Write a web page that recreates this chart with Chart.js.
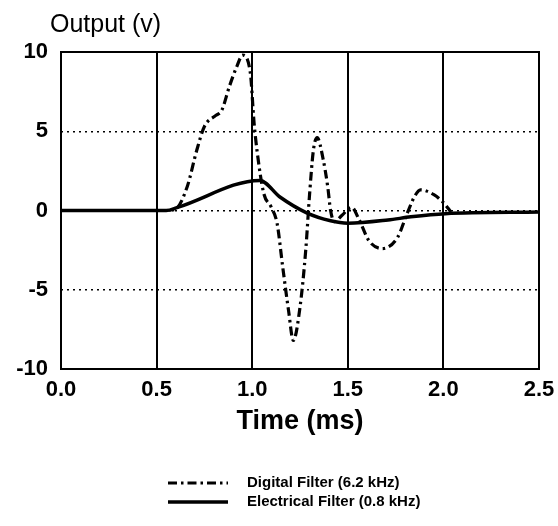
<!DOCTYPE html>
<html>
<head>
<meta charset="utf-8">
<script src="https://cdn.jsdelivr.net/npm/chart.js@4.4.0/dist/chart.umd.min.js"></script>
<style>
  html, body { margin: 0; padding: 0; background: #fff; }
</style>
</head>
<body>
<canvas id="grafico" width="558" height="526"></canvas>
<script>
// datos
const tiempoDigital = [0, 0.55, 0.60, 0.66, 0.71, 0.75, 0.81, 0.84, 0.88, 0.92, 0.95, 0.99, 1.01, 1.025, 1.06, 1.10, 1.13, 1.16, 1.19, 1.215, 1.25, 1.28, 1.30, 1.32, 1.34, 1.37, 1.395, 1.41, 1.43, 1.47, 1.52, 1.56, 1.61, 1.68, 1.76, 1.81, 1.85, 1.88, 1.95, 2.00, 2.04];
const salidaDigital = [0, 0, 0.1, 1.5, 3.8, 5.3, 6.0, 6.3, 7.8, 9.1, 9.8, 8.7, 5.5, 3.8, 1.1, 0.2, -0.8, -3.6, -6.3, -8.2, -6.1, -2.5, 1.0, 3.8, 4.6, 3.3, 1.5, 0.0, -0.7, -0.3, 0.2, -0.6, -1.9, -2.4, -1.7, -0.2, 0.9, 1.3, 1.0, 0.5, -0.1];

const tiempoElectrico = [0, 0.55, 0.61, 1.04, 1.145, 1.285, 1.41, 1.50, 1.71, 1.83, 2.01, 2.5];
const salidaElectrico = [0, 0, 0.2, 1.9, 0.85, -0.15, -0.65, -0.8, -0.6, -0.4, -0.2, -0.1];

const ticksX = [0, 0.5, 1.0, 1.5, 2.0, 2.5];
const ticksY = [-10, -5, 0, 5, 10];

const etiquetas = ['Digital Filter (6.2 kHz)', 'Electrical Filter (0.8 kHz)'];

const fuente = '"Liberation Sans", Arial, sans-serif';

function puntos(xs, ys) {
    return xs.map((x, i) => ({ x: x, y: ys[i] }));
}

// marco, titulos y leyenda
const decoracion = {
    id: 'decoracion',
    afterDraw(chart) {
        const ctx = chart.ctx;
        const area = chart.chartArea;
        ctx.save();
        ctx.strokeStyle = '#000';
        ctx.lineWidth = 2;
        ctx.setLineDash([]);
        ctx.strokeRect(area.left, area.top, area.right - area.left, area.bottom - area.top);

        ctx.fillStyle = '#000';
        ctx.textBaseline = 'alphabetic';
        ctx.textAlign = 'left';
        ctx.font = '25px ' + fuente;
        ctx.fillText('Output (v)', 50, 32);

        ctx.textAlign = 'center';
        ctx.font = 'bold 27px ' + fuente;
        ctx.fillText('Time (ms)', 300, 429);

        // leyenda
        const filas = [483, 502];
        chart.data.datasets.forEach((ds, i) => {
            const y = filas[i];
            ctx.beginPath();
            ctx.lineWidth = ds.borderWidth;
            ctx.setLineDash(ds.borderDash || []);
            ctx.moveTo(168, y);
            ctx.lineTo(228, y);
            ctx.stroke();
            ctx.setLineDash([]);
            ctx.textAlign = 'left';
            ctx.textBaseline = 'middle';
            ctx.font = 'bold 15px ' + fuente;
            ctx.fillText(ds.label, 247, y);
        });
        ctx.restore();
    }
};

const ctx1 = document.getElementById('grafico').getContext('2d');
const grafico = new Chart(ctx1, {
    type: 'line',
    data: {
        datasets: [{
            label: etiquetas[0],
            data: puntos(tiempoDigital, salidaDigital),
            borderColor: '#000',
            borderWidth: 3.2,
            borderDash: [9, 4, 2.5, 4],
            pointRadius: 0,
            fill: false,
            cubicInterpolationMode: 'monotone'
        }, {
            label: etiquetas[1],
            data: puntos(tiempoElectrico, salidaElectrico),
            borderColor: '#000',
            borderWidth: 3.5,
            pointRadius: 0,
            fill: false,
            cubicInterpolationMode: 'monotone'
        }]
    },
    options: {
        responsive: false,
        animation: false,
        layout: { padding: { left: 0, top: 52, right: 19, bottom: 0 } },
        plugins: {
            legend: { display: false },
            tooltip: { enabled: false }
        },
        scales: {
            x: {
                type: 'linear',
                min: 0,
                max: 2.5,
                afterFit: (s) => {
                    s.height = 526 - 52 - 317;
                    s.paddingLeft = 0;
                    s.paddingRight = 0;
                },
                afterBuildTicks: (s) => { s.ticks = ticksX.map(v => ({ value: v })); },
                ticks: {
                    color: '#000',
                    padding: 8,
                    font: { family: fuente, size: 22, weight: 'bold' },
                    callback: (v) => Number(v).toFixed(1)
                },
                grid: { color: '#000', lineWidth: 2, drawTicks: false },
                border: { display: false }
            },
            y: {
                min: -10,
                max: 10,
                afterFit: (s) => {
                    s.width = 61;
                    s.paddingTop = 0;
                    s.paddingBottom = 0;
                },
                afterBuildTicks: (s) => { s.ticks = ticksY.map(v => ({ value: v })); },
                ticks: {
                    color: '#000',
                    padding: 13,
                    font: { family: fuente, size: 22, weight: 'bold' }
                },
                grid: { color: '#000', lineWidth: 1.5, drawTicks: false },
                border: { display: false, dash: [2, 4] }
            }
        }
    },
    plugins: [decoracion]
});
</script>
</body>
</html>
